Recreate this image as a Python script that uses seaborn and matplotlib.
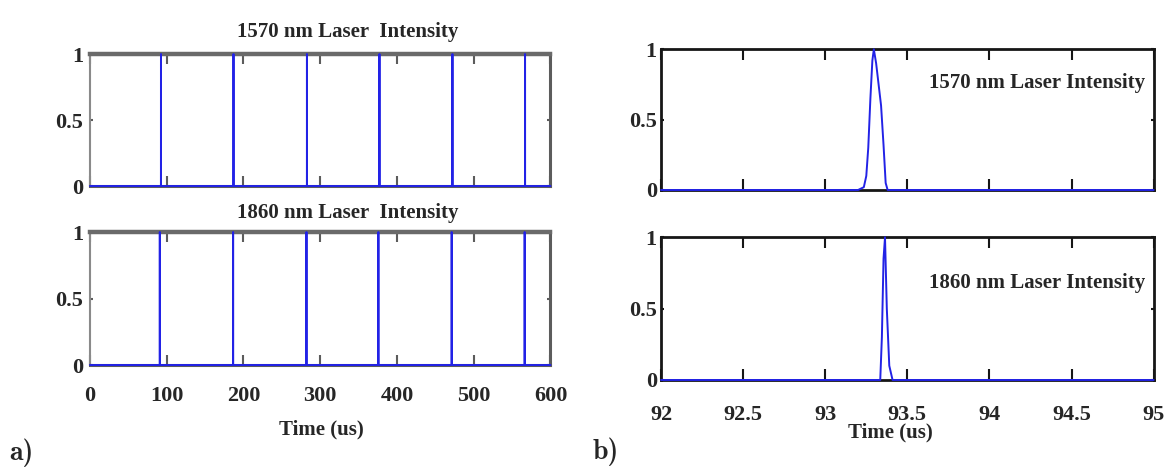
import numpy as np
import pandas as pd
import matplotlib.pyplot as plt
import seaborn as sns

# pulse shapes (time in us, normalised intensity)
pulse_1570_t = [93.20, 93.235, 93.25, 93.262, 93.275, 93.287, 93.296, 93.31, 93.325, 93.34, 93.355, 93.368, 93.38]
pulse_1570_v = [0, 0.02, 0.1, 0.3, 0.65, 0.92, 1.0, 0.9, 0.75, 0.6, 0.32, 0.05, 0]
pulse_1860_t = [93.335, 93.345, 93.355, 93.364, 93.375, 93.39, 93.41]
pulse_1860_v = [0, 0.3, 0.85, 1.0, 0.5, 0.1, 0]

# pulse peak positions in the 0-600 us view
peaks_1570 = [92.5, 187.0, 282.7, 377.2, 472.3, 566.9]
peaks_1860 = [91.0, 186.5, 282.1, 375.8, 471.3, 566.4]

a_range = [0, 600]
b_range = [92, 95]
a_ticks = [0, 100, 200, 300, 400, 500, 600]
b_ticks = [92, 92.5, 93, 93.5, 94, 94.5, 95]
b_ticklabels = ['92', '92.5', '93', '93.5', '94', '94.5', '95']
y_ticks = [0, 0.5, 1]
y_ticklabels = ['0', '0.5', '1']

titles = ['1570 nm Laser  Intensity', '1860 nm Laser  Intensity']
labels_b = ['1570 nm Laser Intensity', '1860 nm Laser Intensity']

BLUE = '#2222e6'
FONT = 'Liberation Serif'


def train(shape_t, shape_v, peaks, span):
    # put the single pulse shape at each peak time, with a flat baseline between
    shape_t = np.array(shape_t)
    peak = shape_t[np.argmax(shape_v)]
    t, v = [span[0]], [0.0]
    for p in peaks:
        t += list(shape_t - peak + p)
        v += list(shape_v)
    t.append(span[1])
    v.append(0.0)
    return pd.DataFrame({'t': t, 'I': v})


def single(shape_t, shape_v, span):
    t = [span[0]] + list(shape_t) + [span[1]]
    v = [0.0] + list(shape_v) + [0.0]
    return pd.DataFrame({'t': t, 'I': v})


def style_axes(ax, spine_col, spine_lw, xlen, xpad, ypad):
    for s in ax.spines.values():
        s.set_color(spine_col)
        s.set_linewidth(spine_lw)
    ax.set_ylim(0, 1)
    ax.set_yticks(y_ticks)
    ax.set_yticklabels(y_ticklabels)
    ax.tick_params(axis='x', direction='in', top=True, bottom=True, length=xlen,
                   width=1.5, color=spine_col, pad=xpad, labelsize=16)
    ax.tick_params(axis='y', direction='in', left=True, right=True, length=2.5,
                   width=1.5, color=spine_col, pad=ypad, labelsize=16)
    for lab in ax.get_xticklabels() + ax.get_yticklabels():
        lab.set_fontweight('bold')
    ax.set_xlabel('')
    ax.set_ylabel('')
    ax.grid(False)


sns.set_style('white')
plt.rcParams['font.family'] = [FONT, 'DejaVu Serif']
plt.rcParams['font.weight'] = 'bold'

fig = plt.figure(figsize=(11.64, 4.69), dpi=100)

ax_a1 = fig.add_axes([0.0773, 0.6034, 0.3956, 0.2814])
ax_a2 = fig.add_axes([0.0773, 0.2217, 0.3956, 0.2836])
ax_b1 = fig.add_axes([0.5679, 0.5949, 0.4232, 0.3000])
ax_b2 = fig.add_axes([0.5679, 0.1898, 0.4232, 0.3043])

# panel a: full pulse trains
for ax, (st, sv, pk), title, pad in [
        (ax_a1, (pulse_1570_t, pulse_1570_v, peaks_1570), titles[0], 12),
        (ax_a2, (pulse_1860_t, pulse_1860_v, peaks_1860), titles[1], 10)]:
    df = train(st, sv, pk, a_range)
    sns.lineplot(data=df, x='t', y='I', ax=ax, color=BLUE, lw=1.4, sort=False,
                 estimator=None, clip_on=False, zorder=5)
    ax.set_xlim(*a_range)
    ax.set_xticks(a_ticks)
    style_axes(ax, '#5c5c5c', 2.2, 7, 15, 5)
    # matlab export: heavy grey top edge, light thin left edge
    ax.spines['top'].set_linewidth(3.2)
    ax.spines['top'].set_color('#6a6a6a')
    ax.spines['left'].set_linewidth(1.5)
    ax.spines['left'].set_color('#8a8a8a')
    ax.set_title(title, x=0.56, pad=pad, fontsize=15, fontweight='bold')

ax_a1.set_xticklabels([])
ax_a2.set_xlabel('Time (us)', fontsize=15, fontweight='bold')
ax_a2.xaxis.set_label_coords(0.503, -0.41)

# panel b: zoom on one pulse
for ax, (st, sv), lab, ypos in [
        (ax_b1, (pulse_1570_t, pulse_1570_v), labels_b[0], 0.76),
        (ax_b2, (pulse_1860_t, pulse_1860_v), labels_b[1], 0.68)]:
    df = single(st, sv, b_range)
    sns.lineplot(data=df, x='t', y='I', ax=ax, color=BLUE, lw=1.4, sort=False,
                 estimator=None, clip_on=False, zorder=5)
    ax.set_xlim(*b_range)
    ax.set_xticks(b_ticks)
    style_axes(ax, '#161616', 2.0, 8, 18, 3)
    ax.text(0.982, ypos, lab, transform=ax.transAxes, ha='right', va='center',
            fontsize=15, fontweight='bold')

ax_b1.set_xticklabels([])
ax_b2.set_xticklabels(b_ticklabels)
for lab in ax_b2.get_xticklabels():
    lab.set_fontweight('bold')
ax_b2.set_xlabel('Time (us)', fontsize=15, fontweight='bold')
ax_b2.xaxis.set_label_coords(0.465, -0.3)

fig.text(0.008, 0.034, 'a)', fontsize=20, family=['cmb10', 'DejaVu Serif'],
         va='center', ha='left')
fig.text(0.509, 0.036, 'b)', fontsize=20, family=['cmb10', 'DejaVu Serif'],
         va='center', ha='left')

fig.savefig('out.png', dpi=100)
